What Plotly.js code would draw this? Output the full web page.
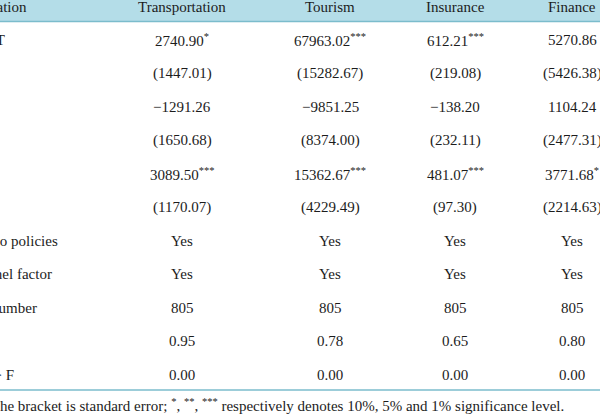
<!DOCTYPE html>
<html>
<head>
<meta charset="utf-8">
<script src="https://cdn.plot.ly/plotly-3.0.1.min.js"></script>
<style>html,body{margin:0;padding:0;background:#fff;overflow:hidden}#chart{width:600px;height:415px}</style>
</head>
<body>
<div id="chart"></div>
<script>
// ---- data ----
const headerLabel = "Explanation";
const columns = ["Transportation", "Tourism", "Insurance", "Finance"];
const rowLabels = ["Policy T", "", "Post", "", "Treat", "", "Portfolio policies", "Personnel factor", "Panel number", "R<sup>2</sup>", "Prob.&nbsp; > F"];

const coefDT = [2740.90, 67963.02, 612.21, 5270.86];
const starsDT = ["*", "***", "***", ""];
const seDT = [1447.01, 15282.67, 219.08, 5426.38];

const coefPost = [-1291.26, -9851.25, -138.20, 1104.24];
const starsPost = ["", "", "", ""];
const sePost = [1650.68, 8374.00, 232.11, 2477.31];

const coefTreat = [3089.50, 15362.67, 481.07, 3771.68];
const starsTreat = ["***", "***", "***", "*"];
const seTreat = [1170.07, 4229.49, 97.30, 2214.63];

const ctrlPolicies = ["Yes", "Yes", "Yes", "Yes"];
const ctrlFactor = ["Yes", "Yes", "Yes", "Yes"];
const obsNumber = [805, 805, 805, 805];
const rSquared = [0.95, 0.78, 0.65, 0.80];
const probF = [0.00, 0.00, 0.00, 0.00];

const footnote = "Note: The bracket is standard error; <sup>*</sup>, <sup>**</sup>, <sup>***</sup> respectively denotes 10%, 5% and 1% significance level.";

// ---- layout constants ----
const W = 600, H = 415;
const colX = [182, 330, 455, 572];
const labelX = -48;
const headerY = 6.5;
const row0Y = 40, rowStep = 33.45;
const footY = 405;
const FONT = "Liberation Serif, Times New Roman, serif";
const TXT = "#1c1c1c";

function fmt(v) {
  const s = v.toFixed(2);
  return v < 0 ? "\u2212" + s.slice(1) : s;
}
const coefCell = (v, st) => fmt(v) + (st ? "<sup>" + st + "</sup>" : "");
const seCell = v => "(" + fmt(v) + ")";

const rows = [
  coefDT.map((v, i) => coefCell(v, starsDT[i])),
  seDT.map(seCell),
  coefPost.map((v, i) => coefCell(v, starsPost[i])),
  sePost.map(seCell),
  coefTreat.map((v, i) => coefCell(v, starsTreat[i])),
  seTreat.map(seCell),
  ctrlPolicies,
  ctrlFactor,
  obsNumber.map(String),
  rSquared.map(v => v.toFixed(2)),
  probF.map(v => v.toFixed(2))
];

const ann = [];
function add(x, y, text, left) {
  ann.push({x: left ? x / W : x, y: y, xref: left ? "paper" : "x", yref: "y", text: text, showarrow: false,
    xanchor: left ? "left" : "center", yanchor: "middle",
    font: {family: FONT, size: 15, color: TXT}});
}
add(labelX, headerY, headerLabel, true);
columns.forEach((c, j) => add(colX[j], headerY, c));
rows.forEach((r, i) => {
  const y = row0Y + i * rowStep;
  if (rowLabels[i]) add(labelX, y, rowLabels[i], true);
  r.forEach((t, j) => add(colX[j], y, t));
});
add(labelX, footY, footnote, true);

const layout = {
  width: W, height: H,
  margin: {l: 0, r: 0, t: 0, b: 0, pad: 0},
  paper_bgcolor: "#ffffff", plot_bgcolor: "#ffffff",
  showlegend: false,
  xaxis: {range: [0, W], visible: false, fixedrange: true},
  yaxis: {range: [H, 0], visible: false, fixedrange: true},
  shapes: [
    {type: "rect", xref: "paper", yref: "y", x0: -0.01, x1: 1.01, y0: -5, y1: 21, fillcolor: "#b4dde8", line: {width: 0}, layer: "below"},
    {type: "line", xref: "paper", yref: "y", x0: -0.01, x1: 1.01, y0: 21.5, y1: 21.5, line: {color: "#7bbccc", width: 1.5}},
    {type: "line", xref: "paper", yref: "y", x0: -0.01, x1: 1.01, y0: 390, y1: 390, line: {color: "#7bbccc", width: 1.5}}
  ],
  annotations: ann
};

Plotly.newPlot("chart", [{x: [], y: [], type: "scatter", mode: "markers", hoverinfo: "skip"}], layout, {staticPlot: true, displayModeBar: false});
</script>
</body>
</html>
